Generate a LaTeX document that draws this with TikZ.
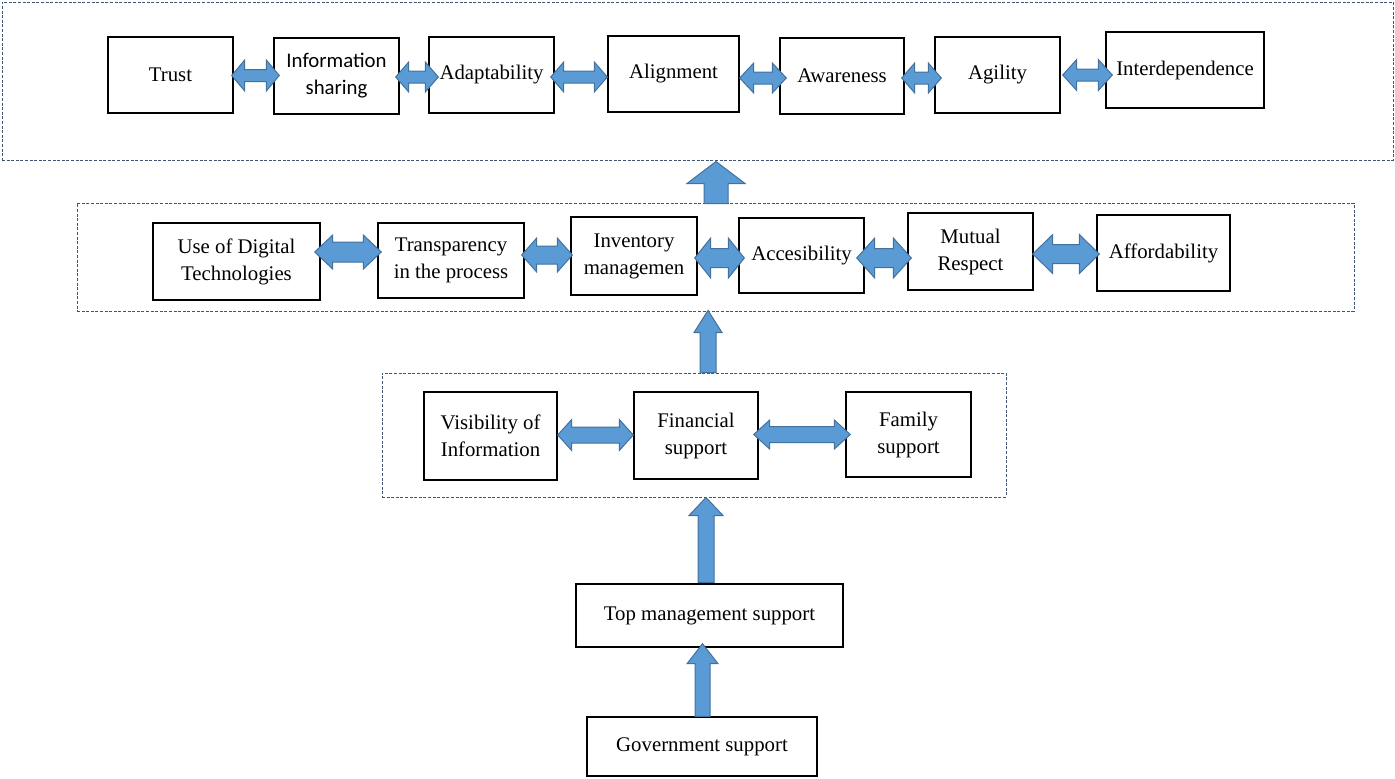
\documentclass[tikz,border=0pt]{standalone}
\usepackage{fontspec}
\setmainfont{Liberation Serif}
\newfontfamily\calfont{Carlito}
\usetikzlibrary{calc}
\definecolor{arrfill}{HTML}{5B9BD5}
\definecolor{arrline}{HTML}{41719C}
\definecolor{dashc}{HTML}{3F5773}
\tikzset{
 box/.style={draw=black, line width=0.7pt, fill=white, inner sep=0pt, align=center, font=\fontsize{10.4}{13.5}\selectfont},
 grp/.style={draw=dashc, line width=0.5pt, dash pattern=on 1.5pt off 0.8pt, inner sep=0pt},
 fatarrow/.style={draw=arrline, fill=arrfill, line width=0.5pt, line join=miter},
}
\newcommand\bx[7][box]{\node[#1, minimum width={(#5-#3)*0.5pt}, minimum height={(#6-#4)*0.5pt}] (#2) at ({(#3+#5)/2},{(#4+#6)/2+1}) {#7};}
% double arrow: from, to, offset1, offset2, y, head half, shaft half, head length
\newcommand\dbl[8]{%
 \coordinate (dA) at ($(#1.east)+(#3,0)$);
 \coordinate (dB) at ($(#2.west)+(#4,0)$);
 \filldraw[fatarrow] let \p1=(dA |- 0,#5), \p2=(dB |- 0,#5) in
  (\x1,\y1) -- (\x1+#8*0.5pt,\y1+#6*0.5pt) -- (\x1+#8*0.5pt,\y1+#7*0.5pt) -- (\x2-#8*0.5pt,\y2+#7*0.5pt) -- (\x2-#8*0.5pt,\y2+#6*0.5pt) -- (\x2,\y2) -- (\x2-#8*0.5pt,\y2-#6*0.5pt) -- (\x2-#8*0.5pt,\y2-#7*0.5pt) -- (\x1+#8*0.5pt,\y1-#7*0.5pt) -- (\x1+#8*0.5pt,\y1-#6*0.5pt) -- cycle;}
% up arrow: from, to, x, offset bottom, offset top, head half, shaft half, head length
\newcommand\uparr[8]{%
 \path (#3,0 |- #1.north) ++(0,#4) coordinate (uA);
 \path (#3,0 |- #2.south) ++(0,#5) coordinate (uB);
 \filldraw[fatarrow] let \p1=(uA), \p2=(uB) in
  (\x1-#7*0.5pt,\y1) -- (\x1-#7*0.5pt,\y2-#8*0.5pt) -- (\x1-#6*0.5pt,\y2-#8*0.5pt) -- (\x1,\y2) -- (\x1+#6*0.5pt,\y2-#8*0.5pt) -- (\x1+#7*0.5pt,\y2-#8*0.5pt) -- (\x1+#7*0.5pt,\y1) -- cycle;}
\begin{document}
\begin{tikzpicture}[x=0.5pt,y=-0.5pt]
\useasboundingbox (0,0) rectangle (1395,778);
% groups
\bx[grp]{g1}{2}{1}{1393}{159}{}
\bx[grp]{g2}{77}{202}{1354}{310}{}
\bx[grp]{g3}{382}{372}{1006}{496}{}
% row 1
\bx{trust}{108}{36}{233}{112}{Trust}
\bx[box,font=\calfont\fontsize{10.4}{13.5}\selectfont]{info}{274}{37}{399}{113}{Information\\sharing}
\bx{adapt}{429}{36}{554}{112}{Adaptability}
\bx{align}{608}{35}{739}{111}{Alignment}
\bx{aware}{780}{37}{904}{113}{Awareness}
\bx{agil}{935}{36}{1060}{112}{Agility}
\bx{inter}{1106}{31}{1264}{107}{Interdependence}
% row 2
\bx{usedt}{153}{222}{320}{299}{Use of Digital\\Technologies}
\bx{transp}{378}{222}{524}{297}{Transparency\\in the process}
\bx{inv}{571}{216}{697}{294}{Inventory\\managemen}
\bx{acc}{739}{217}{864}{292}{Accesibility}
\bx{mut}{908}{212}{1033}{289}{Mutual\\Respect}
\bx{aff}{1097}{214}{1230}{290}{Affordability}
% row 3
\bx{vis}{424}{391}{557}{479}{Visibility of\\Information}
\bx{fin}{634}{391}{758}{478}{Financial\\support}
\bx{fam}{846}{391}{971}{476}{Family\\support}
% bottom
\bx{top}{576}{583}{843}{646}{Top management support}
\bx{gov}{587}{716}{817}{775}{Government support}
% row 1 arrows
\dbl{trust}{info}{-2}{6}{75.5}{15.5}{6}{13}
\dbl{info}{adapt}{-4}{10}{77}{15}{6}{13}
\dbl{adapt}{align}{-4}{0}{77}{15}{6}{13}
\dbl{align}{aware}{0}{7}{78}{15}{6}{14}
\dbl{aware}{agil}{-3}{7}{78}{15}{6}{13}
\dbl{agil}{inter}{2}{7}{75}{15.5}{6}{14}
% row 2 arrows
\dbl{usedt}{transp}{-6}{4}{252}{17}{10}{18}
\dbl{transp}{inv}{-3}{2}{255}{17}{9}{15}
\dbl{inv}{acc}{-3}{6}{258}{20}{9.5}{16}
\dbl{acc}{mut}{-8}{4}{258}{20}{9.5}{18}
\dbl{mut}{aff}{-1}{3}{254}{19.5}{9.5}{20}
% row 3 arrows
\dbl{vis}{fin}{0}{0}{435}{15.5}{8}{14}
\dbl{fin}{fam}{-5}{5}{434.5}{14.5}{8}{16}
% up arrows
\uparr{g2}{g1}{716}{1}{1}{29}{12}{22}
\uparr{g3}{g2}{708}{0}{-1}{14}{8}{22}
\uparr{top}{g3}{706}{-1}{0}{17}{8}{18}
\uparr{gov}{top}{702.5}{0}{-4}{15.5}{7.5}{20}
\end{tikzpicture}
\end{document}
